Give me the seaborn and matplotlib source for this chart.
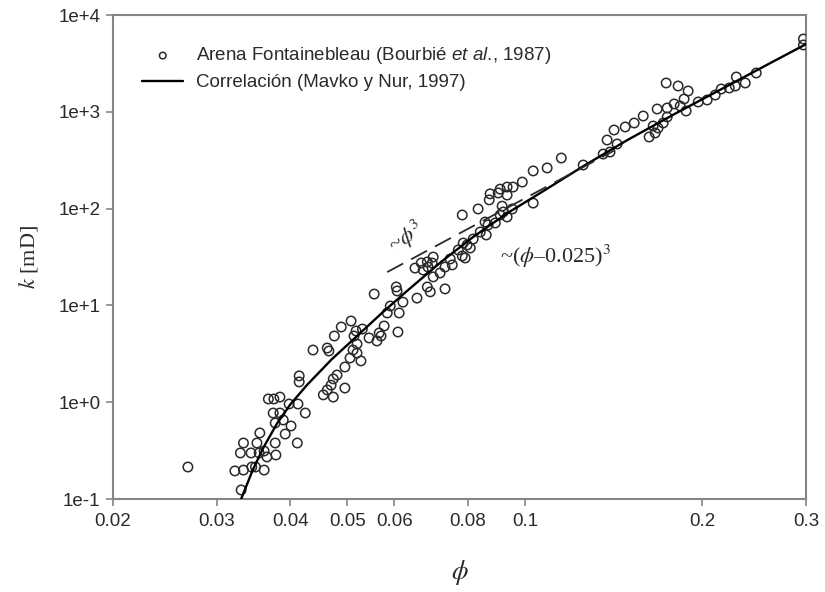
import matplotlib
matplotlib.use("Agg")
import matplotlib.pyplot as plt
from matplotlib.ticker import NullLocator
import seaborn as sns

# Fontainebleau sandstone samples: porosity (fraction) and permeability (mD)
phi_sample = [
    0.0268, 0.0330, 0.0322, 0.0333, 0.0344, 0.0349, 0.0361, 0.0329, 0.0343, 0.0354,
    0.0361, 0.0365, 0.0378, 0.0333, 0.0351, 0.0377, 0.0411, 0.0355, 0.0392, 0.0401,
    0.0377, 0.0389, 0.0374, 0.0384, 0.0424, 0.0398, 0.0412, 0.0367, 0.0375, 0.0384,
    0.0414, 0.0414, 0.0437, 0.0462, 0.0465, 0.0475, 0.0488, 0.0507, 0.0517, 0.0530,
    0.0513, 0.0519, 0.0511, 0.0519, 0.0505, 0.0527, 0.0495, 0.0544, 0.0561, 0.0570,
    0.0566, 0.0577, 0.0591, 0.0584, 0.0612, 0.0609, 0.0555, 0.0605, 0.0607, 0.0621,
    0.0656, 0.0480, 0.0473, 0.0469, 0.0462, 0.0455, 0.0473, 0.0495, 0.0651, 0.0667,
    0.0672, 0.0683, 0.0696, 0.0685, 0.0699, 0.0718, 0.0699, 0.0683, 0.0691, 0.0732,
    0.0747, 0.0753, 0.0732, 0.0771, 0.0783, 0.0792, 0.0798, 0.0786, 0.0808, 0.0817,
    0.0840, 0.0860, 0.0856, 0.0866, 0.0891, 0.0908, 0.0933, 0.0919, 0.0952, 0.0915,
    0.0783, 0.0833, 0.0873, 0.0870, 0.0901, 0.0933, 0.0908, 0.0933, 0.0955, 0.0990,
    0.1033, 0.1033, 0.1091, 0.1153, 0.1256, 0.1358, 0.1395, 0.1379, 0.1434, 0.1417,
    0.1480, 0.1533, 0.1588, 0.1625, 0.1651, 0.1664, 0.1683, 0.1717, 0.1744, 0.1677,
    0.1737, 0.1744, 0.1792, 0.1835, 0.1820, 0.1893, 0.1863, 0.1878, 0.1969, 0.2039,
    0.2104, 0.2154, 0.2223, 0.2276, 0.2285, 0.2366, 0.2470, 0.2970, 0.2970,
]
k_sample = [
    0.214, 0.124, 0.195, 0.199, 0.214, 0.214, 0.199, 0.299, 0.299, 0.299,
    0.313, 0.272, 0.285, 0.379, 0.379, 0.379, 0.379, 0.481, 0.469, 0.568,
    0.610, 0.655, 0.773, 0.773, 0.773, 0.958, 0.958, 1.08, 1.08, 1.13,
    1.87, 1.62, 3.46, 3.63, 3.38, 4.83, 5.98, 6.90, 5.44, 5.70,
    4.83, 3.99, 3.46, 3.22, 2.86, 2.67, 2.31, 4.61, 4.29, 4.83,
    5.19, 6.13, 9.86, 8.35, 8.35, 5.31, 13.1, 15.5, 14.1, 10.8,
    11.9, 1.91, 1.74, 1.50, 1.34, 1.19, 1.13, 1.40, 24.3, 27.4,
    23.2, 28.1, 27.4, 24.9, 31.6, 21.6, 19.7, 15.5, 13.8, 14.8,
    30.2, 26.2, 24.9, 37.4, 32.4, 30.9, 42.1, 44.1, 39.2, 48.5,
    57.3, 53.4, 72.7, 67.7, 71.0, 85.9, 81.9, 92.2, 99.1, 106.0,
    85.9, 99.1, 142.0, 123.0, 145.0, 138.0, 159.0, 167.0, 167.0, 188.0,
    245.0, 114.0, 263.0, 333.0, 282.0, 366.0, 384.0, 511.0, 465.0, 649.0,
    697.0, 766.0, 905.0, 549.0, 713.0, 604.0, 680.0, 766.0, 884.0, 1069.0,
    1984.0, 1095.0, 1204.0, 1148.0, 1847.0, 1640.0, 1356.0, 1019.0, 1263.0, 1324.0,
    1491.0, 1720.0, 1762.0, 1847.0, 2288.0, 1984.0, 2518.0, 5652.0, 4901.0,
]

# Mavko & Nur (1997) correlation curve
phi_fit = [0.0330, 0.0345, 0.0360, 0.0380, 0.0400, 0.0427, 0.0470, 0.0515, 0.0570, 0.0631,
           0.0720, 0.0817, 0.0930, 0.1062, 0.1260, 0.1492, 0.1800, 0.2206, 0.2600, 0.3000]
k_fit = [0.100, 0.197, 0.340, 0.608, 0.950, 1.51, 2.77, 4.62, 8.19, 14.1,
         28.0, 50.9, 88.3, 145.0, 277.0, 510.0, 958.0, 1848.0, 3151.0, 4995.0]

# ~phi^3 reference trend
phi_cube = [0.0584, 0.142]
k_cube = [22.1, 400.0]

xtick_vals = [0.02, 0.03, 0.04, 0.05, 0.06, 0.08, 0.1, 0.2, 0.3]
xtick_labels = ["0.02", "0.03", "0.04", "0.05", "0.06", "0.08", "0.1", "0.2", "0.3"]
ytick_vals = [0.1, 1, 10, 100, 1000, 10000]
ytick_labels = ["1e-1", "1e+0", "1e+1", "1e+2", "1e+3", "1e+4"]

sns.set_theme(style="ticks")
plt.rcParams["font.family"] = ["Liberation Sans", "DejaVu Sans"]
plt.rcParams["mathtext.fontset"] = "custom"
plt.rcParams["mathtext.rm"] = "Liberation Sans"
plt.rcParams["mathtext.it"] = "Liberation Sans:italic"

fig = plt.figure(figsize=(8.25, 5.92), dpi=100)
ax = fig.add_axes([113 / 825, 1 - 499 / 592, 693 / 825, 484 / 592])

ink = "#2a2a2a"
frame = "#858585"

sns.scatterplot(x=phi_sample, y=k_sample, ax=ax, marker="o", s=46,
                color=ink, facecolor="none", edgecolor=ink, linewidth=1.1,
                label=r"Arena Fontainebleau (Bourbié $et\ al$., 1987)", zorder=3)
sns.lineplot(x=phi_fit, y=k_fit, ax=ax, sort=False, estimator=None,
             color="black", linewidth=1.7, label="Correlación (Mavko y Nur, 1997)", zorder=4)
sns.lineplot(x=phi_cube, y=k_cube, ax=ax, sort=False, estimator=None,
             color=ink, linewidth=1.3, linestyle=(0, (10, 5)), zorder=4)

ax.set_xscale("log")
ax.set_yscale("log")
ax.set_xlim(0.02, 0.3)
ax.set_ylim(0.1, 1e4)
ax.set_xticks(xtick_vals)
ax.set_xticklabels(xtick_labels)
ax.set_yticks(ytick_vals)
ax.set_yticklabels(ytick_labels)
ax.xaxis.set_minor_locator(NullLocator())
ax.yaxis.set_minor_locator(NullLocator())

for side in ["left", "right", "top", "bottom"]:
    ax.spines[side].set_visible(True)
    ax.spines[side].set_color(frame)
    ax.spines[side].set_linewidth(1.5)
ax.tick_params(axis="both", which="major", direction="out", length=5, width=1.2,
               color=frame, labelsize=13.5, labelcolor=ink)
ax.tick_params(axis="x", pad=5)
ax.tick_params(axis="y", pad=4)

ax.set_xlabel(r"$\phi$", fontsize=19, color=ink, math_fontfamily="stix")
ax.xaxis.set_label_coords(0.5, -0.122)
ax.set_ylabel(r"$k$ [mD]", fontsize=16, color=ink,
              family="Liberation Serif", math_fontfamily="stix")
ax.yaxis.set_label_coords(-0.105, 0.5)

ax.text(0.0629, 50, r"~$\phi^3$", rotation=33, ha="center", va="center",
        fontsize=16, color=ink, family="Liberation Serif", math_fontfamily="stix")
ax.text(0.1126, 32, r"~($\phi$–0.025)$^3$", ha="center", va="center",
        fontsize=16, color=ink, family="Liberation Serif", math_fontfamily="stix")

handles, labels = ax.get_legend_handles_labels()
ax.legend(handles, labels, loc="upper left", bbox_to_anchor=(0.042, 0.937),
          frameon=False, fontsize=13.5, handlelength=2.2, handletextpad=0.7,
          labelspacing=0.4, borderpad=0, borderaxespad=0, markerscale=0.7,
          labelcolor=ink)

fig.savefig("out.png", dpi=100, facecolor="white")
